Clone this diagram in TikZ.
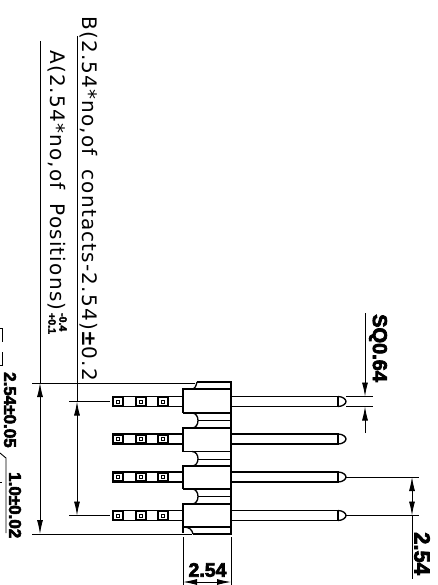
\documentclass[tikz,border=0pt]{standalone}
\usepackage{fontspec}
\setmainfont[LetterSpace=6,WordSpace=1.8]{DejaVu Sans}
\newfontfamily\dimfont[BoldFeatures={FakeBold=3.5}]{Liberation Sans}
\usetikzlibrary{arrows.meta}
\tikzset{
    outline/.style={black, line width=1.3pt},
    thinline/.style={black, line width=0.9pt},
    dimline/.style={thinline, {Latex[length=14pt,width=6pt]}-{Latex[length=14pt,width=6pt]}},
    notetext/.style={rotate=-90, anchor=west, inner sep=0pt, font=\fontsize{20}{20}\selectfont},
    dimtext/.style={rotate=-90, anchor=west, inner sep=0pt, font=\dimfont\bfseries\fontsize{#1}{#1}\selectfont},
    smalltext/.style={rotate=-90, anchor=west, inner sep=0pt, font=\dimfont\bfseries\fontsize{10.5}{10.5}\selectfont},
}
\begin{document}
\begin{tikzpicture}[x=1pt, y=-1pt]
    \useasboundingbox (0,0) rectangle (438,585);

    % Notes along the left
    \node[notetext] (noteB) at (89,16) {B(2.54*no,of contacts-2.54){\bfseries±}0.2};
    \node[notetext] (noteA) at (57,50) {A(2.54*no,of Positions)};
    \node[smalltext] (tolup) at (63,313) {-0.4};
    \node[smalltext] (tollow) at (52,313) {+0.1};

    % Housing
    \draw[thinline] (32,383) -- (195,383) (32,534) -- (192,534);
    \draw[outline] (197,382) -- (231,382) -- (231,534) -- (193,534);
    \draw[outline] (197,382) .. controls (196,386) and (195,389) .. (192,389);
    \draw[outline] (193,534) .. controls (192,530) and (190,527) .. (183,527);
    \draw[outline] (183,527) -- (231,527);
    \foreach \t/\b in {389/413, 428/451.5, 466/489, 504/533} {
        \draw[outline] (231,\t) -- (183,\t) -- (183,\b);
    }
    \foreach \b/\m/\t in {413/420.5/428, 451.5/459/466, 489/496.5/504} {
        \draw[outline] (183,\b) -- (231,\b);
        \draw[outline] (192,\b) .. controls (200,\b) and (200,\t) .. (192,\t);
        \draw[thinline] (198,\m) -- (231,\m);
    }

    % Pins
    \foreach \y in {401.5,439,477,515.5} {
        \draw[outline] (183,\y-5) -- (113,\y-5) -- (113,\y+5) -- (183,\y+5);
        \foreach \x in {113,136,158} {
            \draw[outline, line width=2.4pt] (\x,\y-4.5) rectangle (\x+10,\y+4.5);
            \draw[thinline] (\x+3.5,\y-1.5) rectangle (\x+6.5,\y+1.5);
        }
        \draw[outline] (231,\y-5) -- (338,\y-5) -- (338,\y+5) -- (231,\y+5);
        \draw[outline] (338,\y-5) .. controls (343,\y-5) and (346,\y-2) .. (346,\y) .. controls (346,\y+2) and (343,\y+5) .. (338,\y+5);
    }

    % Dimension lines
    \draw[dimline] (40,383) -- (40,534);
    \draw[thinline] (40,41) -- (40,383);
    \draw[dimline] (77,401.5) -- (77,515.5);
    \draw[thinline] (77,36) -- (77,401.5);
    \draw[thinline] (69,401.5) -- (110,401.5) (69,515.5) -- (110,515.5);
    \draw[thinline] (183,537) -- (183,585) (231,537) -- (231,585);
    \draw[dimline] (183,582) -- (231,582);
    \node[dimtext=19.5, rotate=90, anchor=center] (dimbottom) at (207.5,570) {2.54};
    \draw[thinline] (346,396.5) -- (373,396.5) (346,406.5) -- (373,406.5);
    \draw[thinline, -{Latex[length=14pt,width=6pt]}] (365,313) -- (365,396.5);
    \draw[thinline, -{Latex[length=14pt,width=6pt]}] (365,433) -- (365,406.5);
    \node[dimtext=20] (dimsq) at (378,314) {SQ0.64};
    \draw[thinline] (346,477) -- (419,477) (346,515.5) -- (419,515.5);
    \draw[dimline] (412,477) -- (412,515.5);
    \draw[thinline] (412,515.5) -- (412,579);
    \node[dimtext=22] (dimright) at (422,532) {2.54};

    % Clipped drawing at the left edge
    \node[dimtext=17] (dimtol) at (10,372) {2.54±0.05};
    \node[dimtext=17] (dimpin) at (15,472) {1.0±0.02};
    \draw[thinline] (0,328) -- (2.5,328) -- (2.5,342) (2.5,352) -- (2.5,365) -- (0,365);
    \draw[thinline] (0,453) -- (6,458) -- (6,533);
    \draw[thinline] (0,482) -- (2,482);
\end{tikzpicture}
\end{document}
